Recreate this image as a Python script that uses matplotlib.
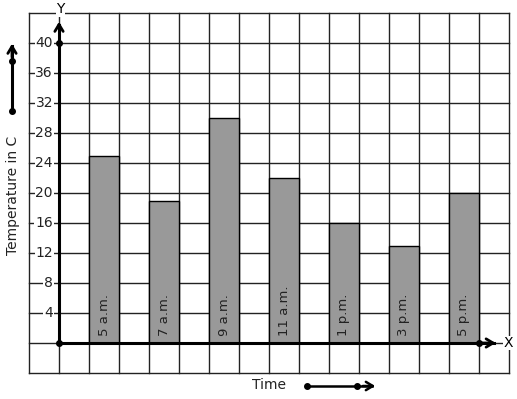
import matplotlib
matplotlib.use("Agg")
import matplotlib.pyplot as plt

# data
categories = ["5 a.m.", "7 a.m.", "9 a.m.", "11 a.m.", "1 p.m.", "3 p.m.", "5 p.m."]
temperatures = [25, 19, 30, 22, 16, 13, 20]
ytick_values = [4, 8, 12, 16, 20, 24, 28, 32, 36, 40]
ytick_labels = [str(v) for v in ytick_values]

W, H = 517, 399
fig = plt.figure(figsize=(W / 100, H / 100), dpi=100)
fig.patch.set_facecolor("white")
# grid area: px x 29..509, y 13..373
ax = fig.add_axes([29 / W, (H - 373) / H, 480 / W, 360 / H])
ax.set_xlim(-1, 15)
ax.set_ylim(-4, 44)
ax.axis("off")

gc = "#222222"
for xv in range(-1, 16):
    ax.plot([xv, xv], [-4, 44], color=gc, lw=1.0, zorder=1, clip_on=False)
for yv in range(-4, 45, 4):
    ax.plot([-1, 15], [yv, yv], color=gc, lw=1.0, zorder=1, clip_on=False)

# bars
xpos = [1.5 + 2 * i for i in range(len(categories))]
ax.bar(xpos, temperatures, width=1.0, color="#999999", edgecolor="black",
       linewidth=1.0, zorder=2)
for x, lab in zip(xpos, categories):
    ax.text(x, 0.9, lab, rotation=90, ha="center", va="bottom",
            fontsize=9.5, color="#222222", zorder=5)

# axes
ax.plot([0, 0], [0, 42.4], color="black", lw=2.2, zorder=4, clip_on=False)
ax.plot([0, 14.5], [0, 0], color="black", lw=2.2, zorder=4, clip_on=False)
ax.annotate("", xy=(0, 43.2), xytext=(0, 41.5),
            arrowprops=dict(arrowstyle="->,head_length=0.5,head_width=0.3", lw=2, color="black"),
            annotation_clip=False, zorder=4)
ax.annotate("", xy=(14.65, 0), xytext=(14.0, 0),
            arrowprops=dict(arrowstyle="->,head_length=0.5,head_width=0.3", lw=2, color="black"),
            annotation_clip=False, zorder=4)
ax.plot([0, 0, 14], [0, 40, 0], "o", color="black", ms=4, zorder=5, clip_on=False)
ax.text(0.05, 44.5, "Y", ha="center", va="center", fontsize=10,
        bbox=dict(facecolor="white", edgecolor="none", pad=0.5), zorder=6)
ax.text(14.98, 0, "X", ha="center", va="center", fontsize=10, zorder=6,
        bbox=dict(facecolor="white", edgecolor="none", pad=0.3))

# y tick labels
for v, lab in zip(ytick_values, ytick_labels):
    ax.text(-0.2, v, lab, ha="right", va="center", fontsize=10, color="#222222",
            bbox=dict(facecolor="white", edgecolor="none", pad=0.6), zorder=6)

# left label + arrow
fig.text(13 / W, 1 - 195 / H, "Temperature in C", rotation=90, ha="center",
         va="center", fontsize=10, color="#222222")
fig.add_artist(plt.Line2D([12 / W, 12 / W], [1 - 111 / H, 1 - 46 / H], color="black", lw=2.2))
fig.add_artist(plt.Line2D([12 / W], [1 - 111 / H], marker="o", color="black", ms=4))
fig.add_artist(plt.Line2D([12 / W], [1 - 61 / H], marker="o", color="black", ms=4))
ax.annotate("", xy=(12 / W, 1 - 41 / H), xytext=(12 / W, 1 - 60 / H),
            xycoords="figure fraction", textcoords="figure fraction",
            arrowprops=dict(arrowstyle="->,head_length=0.5,head_width=0.3", lw=2, color="black"),
            annotation_clip=False)

# bottom label + arrow
fig.text(269 / W, 1 - 385 / H, "Time", ha="center", va="center", fontsize=10, color="#222222")
fig.add_artist(plt.Line2D([307 / W, 372 / W], [1 - 386 / H, 1 - 386 / H], color="black", lw=1.8))
fig.add_artist(plt.Line2D([307 / W], [1 - 386 / H], marker="o", color="black", ms=4))
fig.add_artist(plt.Line2D([357 / W], [1 - 386 / H], marker="o", color="black", ms=4))
ax.annotate("", xy=(378 / W, 1 - 386 / H), xytext=(360 / W, 1 - 386 / H),
            xycoords="figure fraction", textcoords="figure fraction",
            arrowprops=dict(arrowstyle="->,head_length=0.5,head_width=0.3", lw=1.8, color="black"),
            annotation_clip=False)

fig.savefig("out.png", dpi=100, facecolor="white")
